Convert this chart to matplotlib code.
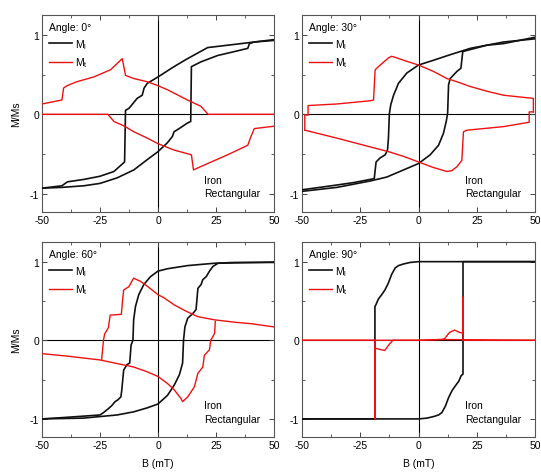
import matplotlib
matplotlib.use("Agg")
import matplotlib.pyplot as plt
from matplotlib.ticker import MultipleLocator

plt.rcParams['font.family'] = ['Liberation Sans', 'DejaVu Sans']
plt.rcParams['font.size'] = 7.5
plt.rcParams['axes.unicode_minus'] = False
plt.rcParams['mathtext.fontset'] = 'custom'
plt.rcParams['mathtext.rm'] = 'Liberation Sans'

# ---- data (B in mT, M/Ms) ----
angles = ["0°", "30°", "60°", "90°"]

# Angle 0
b0_ml_dn = [50, 41.5, 33, 21.4, 12.7, 6.9, 0, -4.6, -6, -6.8, -9, -12.5, -14, -14.4, -19, -25, -32, -39, -40, -41.4, -50]
m0_ml_dn = [0.94, 0.91, 0.88, 0.84, 0.70, 0.60, 0.47, 0.39, 0.33, 0.24, 0.20, 0.075, 0.05, -0.60, -0.72, -0.78, -0.82, -0.85, -0.87, -0.90, -0.93]
b0_ml_up = [-50, -41.4, -32, -25, -17.6, -10.4, -4.6, 0, 4, 6.2, 6.9, 9.1, 12.7, 14.1, 14.4, 18.5, 25.7, 33, 38.7, 39.4, 41.5, 50]
m0_ml_up = [-0.93, -0.92, -0.90, -0.87, -0.80, -0.70, -0.57, -0.47, -0.36, -0.28, -0.22, -0.18, -0.11, -0.09, 0.60, 0.66, 0.74, 0.79, 0.83, 0.89, 0.91, 0.93]
b0_mt_dn = [50, 21.6, 18.5, 12.7, 4, 0, -4.6, -10.4, -14, -15.4, -20.5, -27.7, -35, -39.2, -40.7, -41.4, -50]
m0_mt_dn = [0, 0, 0.10, 0.18, 0.31, 0.36, 0.41, 0.45, 0.49, 0.70, 0.56, 0.47, 0.41, 0.36, 0.33, 0.18, 0.13]
b0_mt_up = [-50, -21.6, -19, -14.4, -10.4, -4.6, 0, 6.9, 14.4, 15.3, 21.4, 30, 38.7, 39.8, 41.5, 50]
m0_mt_up = [0, 0, -0.09, -0.15, -0.22, -0.30, -0.37, -0.45, -0.51, -0.70, -0.62, -0.51, -0.39, -0.30, -0.18, -0.15]

# Angle 30
b30_ml_dn = [50, 36.5, 22.2, 13.6, 6.4, 0, -5, -8.6, -10.7, -11.9, -12.5, -12.9, -13.3, -14.3, -16.5, -18.2, -19, -27.9, -35, -42.3, -50]
m30_ml_dn = [0.95, 0.91, 0.83, 0.75, 0.68, 0.62, 0.52, 0.39, 0.24, 0.12, 0.01, -0.30, -0.45, -0.51, -0.55, -0.60, -0.81, -0.86, -0.89, -0.92, -0.95]
b30_ml_up = [-50, -35, -20.8, -13.6, -6.4, 0, 5, 8.6, 10.7, 11.9, 12.5, 12.9, 13.6, 16.5, 18.2, 19, 29.4, 36.5, 50]
m30_ml_up = [-0.97, -0.92, -0.84, -0.79, -0.70, -0.62, -0.51, -0.39, -0.24, -0.09, 0.01, 0.37, 0.45, 0.54, 0.58, 0.79, 0.87, 0.89, 0.97]
b30_mt_dn = [49.3, 49.3, 36.5, 29.4, 22.2, 16.5, 12.2, 6.4, 0, -6.4, -9.3, -11.5, -12.9, -17.2, -18.6, -19.3, -20.8, -35, -47.4, -47.4, -48.8, -48.8]
m30_mt_dn = [0.03, 0.20, 0.24, 0.29, 0.35, 0.41, 0.45, 0.54, 0.62, 0.68, 0.71, 0.73, 0.71, 0.60, 0.56, 0.18, 0.17, 0.13, 0.11, -0.01, -0.01, -0.20]
b30_mt_up = [-48.8, -35, -20.8, -12.9, -6.4, 0, 6.4, 12.2, 14.3, 16.5, 18.6, 19.3, 20.8, 36.5, 47.5, 47.5, 49.3]
m30_mt_up = [-0.20, -0.30, -0.41, -0.47, -0.53, -0.60, -0.67, -0.72, -0.71, -0.66, -0.58, -0.22, -0.20, -0.155, -0.10, 0.03, 0.03]

# Angle 60
b60_ml_dn = [50, 33, 24.4, 12.8, 4.1, 0, -3.2, -6.1, -8.3, -9.7, -10.5, -10.8, -11.6, -12.2, -13.4, -14.8, -15.6, -16, -17.4, -18.5, -19.9, -21.4, -23.5, -25, -39.5, -50]
m60_ml_dn = [0.99, 0.99, 0.98, 0.95, 0.91, 0.88, 0.81, 0.71, 0.58, 0.43, 0.26, 0.0, -0.06, -0.29, -0.31, -0.38, -0.63, -0.72, -0.76, -0.78, -0.83, -0.87, -0.92, -0.95, -0.98, -1.0]
b60_ml_up = [-50, -32.3, -17.7, -10.5, -4.7, 0, 4.1, 7, 9.2, 10.6, 11, 11.6, 12.8, 15, 16.4, 17.2, 18.6, 19.3, 20.8, 22.2, 23.7, 25.9, 50]
m60_ml_up = [-1.0, -0.99, -0.95, -0.91, -0.86, -0.81, -0.70, -0.57, -0.44, -0.29, 0.0, 0.17, 0.28, 0.34, 0.39, 0.66, 0.71, 0.77, 0.81, 0.88, 0.94, 0.98, 0.995]
b60_mt_dn = [50, 40.4, 33, 24.4, 17.2, 12.1, 7, 2.6, 0, -4.7, -7.6, -10.5, -12.6, -14.8, -15.3, -15.8, -20.6, -21.4, -23, -23.5, -24.3]
m60_mt_dn = [0.17, 0.21, 0.23, 0.26, 0.30, 0.37, 0.45, 0.54, 0.58, 0.69, 0.75, 0.79, 0.68, 0.64, 0.50, 0.33, 0.32, 0.16, 0.08, 0.0, -0.25]
b60_mt_up = [-50, -39.5, -25, -10.5, -4.7, 0, 4.1, 7, 9.9, 10.6, 12.8, 15.7, 17.2, 19.3, 20, 22.2, 22.7, 23.7, 24.4, 24.7]
m60_mt_up = [-0.17, -0.20, -0.25, -0.34, -0.40, -0.46, -0.55, -0.63, -0.74, -0.78, -0.72, -0.59, -0.42, -0.34, -0.19, -0.12, 0.0, 0.05, 0.09, 0.24]

# Angle 90
b90_ml_dn = [50, 0, -3.6, -6.5, -8.6, -10, -11.5, -12.9, -14.4, -15.8, -17.3, -18.3, -18.7, -18.7, -50]
m90_ml_dn = [1.0, 1.0, 0.99, 0.97, 0.95, 0.92, 0.84, 0.73, 0.64, 0.58, 0.52, 0.45, 0.43, -1.0, -1.0]
b90_ml_up = [-50, 0, 3.6, 6.5, 8.6, 10, 11.5, 12.9, 14.4, 15.8, 17.3, 18.3, 19.1, 19.1, 50]
m90_ml_up = [-1.0, -1.0, -0.99, -0.97, -0.95, -0.92, -0.84, -0.73, -0.64, -0.58, -0.52, -0.45, -0.43, 1.0, 1.0]
b90_mt_dn = [50, 10, 0, -11, -12.5, -14.5, -16, -18.7, -18.7, -18.7, -50]
m90_mt_dn = [0, 0.01, 0, 0, -0.05, -0.13, -0.12, -0.10, -1.0, 0, 0]
b90_mt_up = [-50, -18.7, 0, 10, 11.2, 13.3, 15.5, 17.6, 19.1, 19.1, 19.1, 50]
m90_mt_up = [0, 0, 0, 0.01, 0.02, 0.10, 0.13, 0.10, 0.09, 0.55, 0, 0]

panels = [
    (b0_ml_dn, m0_ml_dn, b0_ml_up, m0_ml_up, b0_mt_dn, m0_mt_dn, b0_mt_up, m0_mt_up),
    (b30_ml_dn, m30_ml_dn, b30_ml_up, m30_ml_up, b30_mt_dn, m30_mt_dn, b30_mt_up, m30_mt_up),
    (b60_ml_dn, m60_ml_dn, b60_ml_up, m60_ml_up, b60_mt_dn, m60_mt_dn, b60_mt_up, m60_mt_up),
    (b90_ml_dn, m90_ml_dn, b90_ml_up, m90_ml_up, b90_mt_dn, m90_mt_dn, b90_mt_up, m90_mt_up),
]

fig = plt.figure(figsize=(5.41, 4.77), dpi=100)
W, H = 541, 477
boxes = [(42, 16, 274, 213), (302, 16, 535, 213), (42, 243, 274, 438), (302, 243, 535, 438)]

for i, (box, d) in enumerate(zip(boxes, panels)):
    x0, y0, x1, y1 = box
    ax = fig.add_axes([x0 / W, 1 - y1 / H, (x1 - x0) / W, (y1 - y0) / H])
    ax.axhline(0, color='black', lw=0.8, zorder=1)
    ax.axvline(0, color='black', lw=0.8, zorder=1)
    ax.plot(d[0], d[1], color='#111111', lw=1.2, zorder=3, label=r'$\mathregular{M_l}$')
    ax.plot(d[2], d[3], color='#111111', lw=1.2, zorder=3)
    ax.plot(d[4], d[5], color='#ee1111', lw=1.0, zorder=4, label=r'$\mathregular{M_t}$')
    ax.plot(d[6], d[7], color='#ee1111', lw=1.0, zorder=4)

    ax.set_xlim(-50, 50)
    ax.set_ylim(-1.23, 1.25)
    ax.set_xticks([-50, -25, 0, 25, 50])
    ax.set_yticks([-1, 0, 1])
    ax.xaxis.set_minor_locator(MultipleLocator(12.5))
    ax.yaxis.set_minor_locator(MultipleLocator(0.5))
    ax.tick_params(which='both', direction='in', top=True, right=True, color='#444444', pad=2)
    ax.tick_params(which='major', length=3.5, width=0.7)
    ax.tick_params(which='minor', length=2, width=0.6)
    for s in ax.spines.values():
        s.set_color('#555555')
        s.set_linewidth(0.8)

    leg = ax.legend(loc='upper left', frameon=False, title='Angle: ' + angles[i],
                    handlelength=2.2, handletextpad=0.3, labelspacing=0.45,
                    borderaxespad=0.3, fontsize=7.5, title_fontsize=7.5)
    leg._legend_box.align = 'left'

    ax.text(0.70, 0.19, "Iron\nRectangular", transform=ax.transAxes,
            va='top', ha='left', linespacing=1.45, fontsize=7.5)

    if i in (0, 2):
        ax.set_ylabel('M/Ms', labelpad=6)
    if i in (2, 3):
        ax.set_xlabel('B (mT)', labelpad=6)

fig.savefig('out.png', dpi=100)
